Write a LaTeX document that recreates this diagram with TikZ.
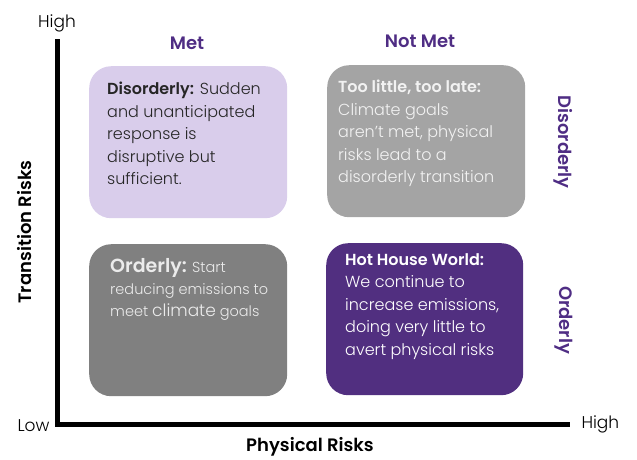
\documentclass[tikz,border=0pt]{standalone}
\usepackage{fontspec}
\setmainfont{Poppins}[UprightFont=* Light, BoldFont=* SemiBold]
\newfontfamily\headfont{Poppins}[UprightFont=* Medium, BoldFont=* SemiBold]
\usetikzlibrary{positioning}

\definecolor{metpurple}{HTML}{4F2D84}
\definecolor{lavender}{HTML}{D9CDEB}
\definecolor{lightgrey}{HTML}{A4A4A4}
\definecolor{midgrey}{HTML}{808080}
\definecolor{hotpurple}{HTML}{512F80}

\tikzset{
  quad/.style={rounded corners=22pt, anchor=north west, inner sep=0pt,
    minimum width=198pt, minimum height=152pt},
  quadtext/.style={anchor=north west, align=left, inner sep=0pt,
    font=\fontsize{16}{22.5}\selectfont},
  axisline/.style={line width=5pt, line cap=rect},
  ticklabel/.style={font=\fontsize{17}{20}\selectfont},
  scenario/.style={text=metpurple, font=\headfont\bfseries\fontsize{18}{20}\selectfont},
}

\begin{document}
\begin{tikzpicture}[x=1pt, y=-1pt]
\useasboundingbox (0,0) rectangle (637,459);

% axes
\coordinate (origin) at (57,424);
\coordinate (ytop) at (57,41);
\coordinate (xend) at (567,424);
\draw[axisline] (ytop) -- (origin) -- (xend);

\node[ticklabel] (yhigh) at (57,23) {High};
\node[ticklabel, anchor=east] (xlow) at (53,426) {Low};
\node[ticklabel, anchor=west] (xhigh) at (578,424) {High};
\node[font=\headfont\bfseries\fontsize{18}{20}\selectfont, rotate=90] (ytitle) at (25,232) {Transition Risks};
\node[font=\headfont\bfseries\fontsize{18}{20}\selectfont] (xtitle) at (310,447) {Physical Risks};

% column and row headings
\node[scenario] (met) at (187,43) {Met};
\node[scenario] (notmet) at (420,41) {Not Met};
\node[scenario, rotate=-90] (disorderly) at (563,142) {Disorderly};
\node[scenario, rotate=-90] (orderly) at (564,320) {Orderly};

% quadrants
\node[quad, fill=lavender] (q1) at (89,66) {};
\node[quad, fill=lightgrey] (q2) at (327,65) {};
\node[quad, fill=midgrey] (q3) at (89,244) {};
\node[quad, fill=hotpurple, minimum width=197pt] (q4) at (326,243) {};

\node[quadtext, text=black!85] (t1) at (107,82)
  {\textbf{Disorderly:} Sudden\\and unanticipated\\response is\\disruptive but\\sufficient.};
\node[quadtext, text=white!95!black] (t2) at (338,80)
  {\textbf{Too little, too late:}\\Climate goals\\aren’t met, physical\\risks lead to a\\disorderly transition};
\node[quadtext, text=white!92!black, font=\fontsize{14.5}{22}\selectfont] (t3) at (110,258)
  {{\fontsize{19}{22}\selectfont\bfseries Orderly:} Start\\reducing emissions to\\meet {\fontsize{17}{22}\selectfont climate} goals};
\node[quadtext, text=white] (t4) at (345,253)
  {\textbf{Hot House World:}\\We continue to\\increase emissions,\\doing very little to\\avert physical risks};
\end{tikzpicture}
\end{document}
